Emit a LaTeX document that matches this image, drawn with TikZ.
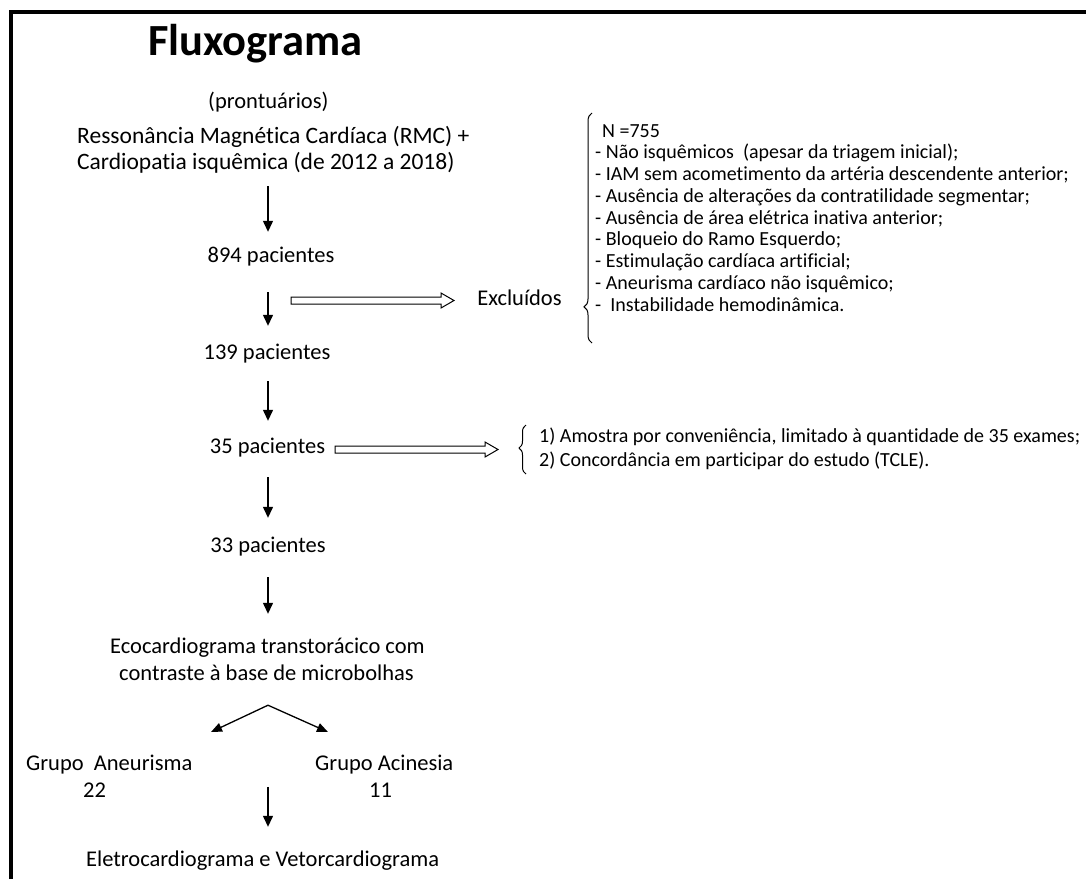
\documentclass[tikz,border=0pt]{standalone}
\usepackage{fontspec}
\setmainfont{Carlito}[Ligatures=NoCommon]
\usetikzlibrary{arrows.meta,decorations.pathreplacing}
\begin{document}
\begin{tikzpicture}[x=1pt,y=-1pt,
  txt/.style={inner sep=0pt, anchor=base, font=\fontsize{22.5}{26}\selectfont, text height=15pt, text depth=5pt},
  txtl/.style={txt, anchor=base west},
  lst/.style={inner sep=0pt, anchor=base west, font=\fontsize{20}{22}\selectfont},
  arr/.style={line width=1.3pt, -{Triangle[length=11pt,width=10pt]}},
  hollow/.style={line width=1pt, line join=miter},
  brc/.style={decorate, line width=1pt, decoration={brace, amplitude=8pt}}]
\useasboundingbox (0,0) rectangle (1086,879);
% border
\draw[line width=4pt] (10.5,879) -- (10.5,12) -- (1086,12);
\coordinate (spine) at (268,0);
% title
\node[inner sep=0pt, anchor=base, font=\fontsize{44.5}{50}\selectfont\bfseries] (title) at (255.5,55) {Fluxograma};
% main column
\node[txtl] (pront) at (208,108) {(prontuários)};
\node[txtl, font=\fontsize{23.5}{26}\selectfont] (ress1) at (77,143) {Ressonância Magnética Cardíaca (RMC) +};
\node[txtl, font=\fontsize{23.5}{26}\selectfont] (ress2) at (77,169) {Cardiopatia isquêmica (de 2012 a 2018)};
\node[txt] (n894) at (271,262) {894 pacientes};
\node[txt] (n139) at (267,359) {139 pacientes};
\node[txt] (n35) at (267.5,453) {35 pacientes};
\node[txt] (n33) at (268,552) {33 pacientes};
\node[txtl] (eco1) at (110,653) {Ecocardiograma transtorácico com};
\node[txtl] (eco2) at (119,680) {contraste à base de microbolhas};
\node[txtl] (ganeu) at (26,770) {Grupo\ \ Aneurisma};
\node[txtl] (n22) at (83,797) {22};
\node[txtl] (gacin) at (315,770) {Grupo Acinesia};
\node[txtl] (n11) at (369,797) {11};
\node[txtl] (eletro) at (86,866) {Eletrocardiograma e Vetorcardiograma};
% excluded
\node[txt] (excl) at (519.5,305) {Excluídos};
\node[lst] (l0) at (602,137) {N =755};
\node[lst] (l1) at (595,158.75) {- Não isquêmicos\ \ (apesar da triagem inicial);};
\node[lst] (l2) at (595,180.5) {- IAM sem acometimento da artéria descendente anterior;};
\node[lst] (l3) at (595,202.25) {- Ausência de alterações da contratilidade segmentar;};
\node[lst] (l4) at (595,224) {- Ausência de área elétrica inativa anterior;};
\node[lst] (l5) at (595,245.75) {- Bloqueio do Ramo Esquerdo;};
\node[lst] (l6) at (595,267.5) {- Estimulação cardíaca artificial;};
\node[lst] (l7) at (595,289.25) {- Aneurisma cardíaco não isquêmico;};
\node[lst] (l8) at (595,311) {-\ \ Instabilidade hemodinâmica.};
\node[lst] (m1) at (539,442) {1) Amostra por conveniência, limitado à quantidade de 35 exames;};
\node[lst] (m2) at (539,466) {2) Concordância em participar do estudo (TCLE).};
% braces
\draw[brc, decoration={aspect=0.157}] (592,343) -- (592,113);
\draw[brc, decoration={amplitude=7pt, aspect=0.53}] (526,474) -- (526,425);
% hollow arrows
\draw[hollow] (291,297) -- (441,297) -- (441,293) -- (454,300.5) -- (441,308) -- (441,304) -- (291,304) -- cycle;
\draw[hollow] (335,446) -- (485,446) -- (485,442) -- (498,449.5) -- (485,457) -- (485,453) -- (335,453) -- cycle;
% vertical arrows
\draw[arr, shorten <=12pt, shorten >=15pt] (ress2.south -| spine) -- (n894.north -| spine);
\draw[arr, shorten <=25pt, shorten >=18pt] (n894.south -| spine) -- (n139.north -| spine);
\draw[arr, shorten <=17pt, shorten >=17pt] (n139.south -| spine) -- (n35.north -| spine);
\draw[arr, shorten <=19pt, shorten >=19pt] (n35.south -| spine) -- (n33.north -| spine);
\draw[arr, shorten <=20pt, shorten >=24pt] (n33.south -| spine) -- (eco1.north -| spine);
\coordinate (apex) at ([yshift=-20pt]eco2.south -| spine);
\coordinate (tipl) at (211,732);
\coordinate (tipr) at (328,732);
\draw[line width=1.3pt, -{Triangle[length=11pt,width=9pt]}] (apex) -- (tipl);
\draw[line width=1.3pt, -{Triangle[length=11pt,width=9pt]}] (apex) -- (tipr);
\draw[arr, shorten <=32pt, shorten >=24pt] (ganeu.north -| spine) -- (eletro.north -| spine);
\end{tikzpicture}
\end{document}
